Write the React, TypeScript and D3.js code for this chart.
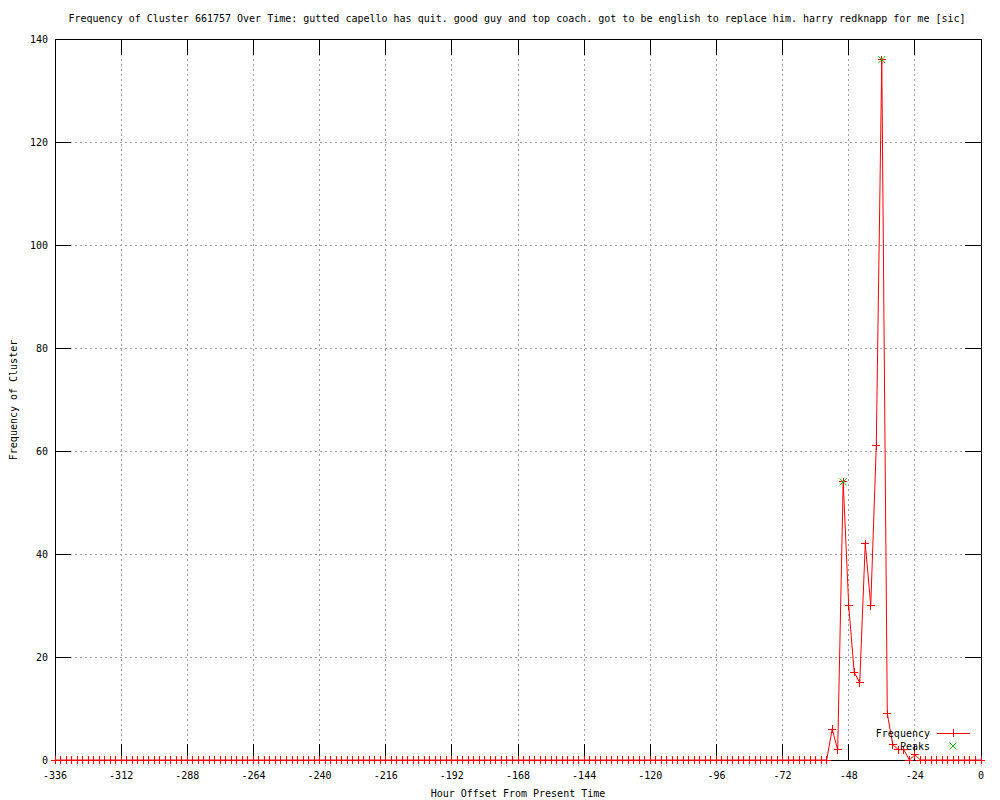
import React from "react";
import * as d3 from "d3";

const TITLE =
  "Frequency of Cluster 661757 Over Time: gutted capello has quit. good guy and top coach. got to be english to replace him. harry redknapp for me [sic]";
const X_LABEL = "Hour Offset From Present Time";
const Y_LABEL = "Frequency of Cluster";

// Non-zero observations (hour offset -> frequency); all other 2-hour samples are 0
const hours: number[] = [-54, -52, -50, -48, -46, -44, -42, -40, -38, -36, -34, -32, -30, -28, -26, -24];
const counts: number[] = [6, 2, 54, 30, 17, 15, 42, 30, 61, 136, 9, 3, 2, 2, 0, 1];
const peakHours: number[] = [-50, -36];
const peakCounts: number[] = [54, 136];
const xTicks: number[] = [-336, -312, -288, -264, -240, -216, -192, -168, -144, -120, -96, -72, -48, -24, 0];
const yTicks: number[] = [0, 20, 40, 60, 80, 100, 120, 140];
const sampleHours: number[] = d3.range(-336, 1, 2);

const FONT = "'DejaVu Sans Mono', monospace";

export default function App() {
  const W = 1000, H = 800;
  const left = 55, right = 981, top = 39, bottom = 760;
  const x = d3.scaleLinear().domain([-336, 0]).range([left, right]);
  const y = d3.scaleLinear().domain([0, 140]).range([bottom, top]);

  const lookup = new Map<number, number>();
  hours.forEach((h, i) => lookup.set(h, counts[i]));
  const series = sampleHours.map((h) => ({ h, v: lookup.get(h) ?? 0 }));
  const line = d3.line<{ h: number; v: number }>().x((d) => x(d.h)).y((d) => y(d.v));

  const red = "#ff0000";
  const green = "#00c000";
  const tick = 16;
  const plus = (cx: number, cy: number, key: string, col = red) => (
    <g key={key} stroke={col} strokeWidth={1} shapeRendering="crispEdges">
      <line x1={cx - 4} x2={cx + 4} y1={cy} y2={cy} />
      <line x1={cx} x2={cx} y1={cy - 4} y2={cy + 4} />
    </g>
  );
  const cross = (cx: number, cy: number, key: string) => (
    <g key={key} stroke={green} strokeWidth={1}>
      <line x1={cx - 3.5} x2={cx + 3.5} y1={cy - 3.5} y2={cy + 3.5} />
      <line x1={cx - 3.5} x2={cx + 3.5} y1={cy + 3.5} y2={cy - 3.5} />
    </g>
  );

  return (
    <svg width={W} height={H} style={{ position: "absolute", left: 0, top: 0, background: "#fff" }} fontFamily={FONT} fontSize={10}>
      <rect x={0} y={0} width={W} height={H} fill="#fff" />
      {/* grid */}
      <g stroke="#a0a0a0" strokeDasharray="2,3" shapeRendering="crispEdges">
        {xTicks.filter((t) => t !== -336 && t !== 0).map((t) => (
          <line key={"gx" + t} x1={x(t)} x2={x(t)} y1={top} y2={bottom} />
        ))}
        {yTicks.filter((t) => t !== 0 && t !== 140).map((t) => (
          <line key={"gy" + t} x1={left} x2={right} y1={y(t)} y2={y(t)} />
        ))}
      </g>
      {/* ticks */}
      <g stroke="#000" shapeRendering="crispEdges">
        {xTicks.map((t) => (
          <g key={"tx" + t}>
            <line x1={x(t)} x2={x(t)} y1={bottom} y2={bottom - tick} />
            <line x1={x(t)} x2={x(t)} y1={top} y2={top + tick} />
          </g>
        ))}
        {yTicks.map((t) => (
          <g key={"ty" + t}>
            <line x1={left} x2={left + tick} y1={y(t)} y2={y(t)} />
            <line x1={right} x2={right - tick} y1={y(t)} y2={y(t)} />
          </g>
        ))}
        <rect x={left} y={top} width={right - left} height={bottom - top} fill="none" />
      </g>
      {/* tick labels */}
      {xTicks.map((t) => (
        <text key={"lx" + t} x={x(t)} y={779} textAnchor="middle">{t}</text>
      ))}
      {yTicks.map((t) => (
        <text key={"ly" + t} x={48} y={y(t) + 3.5} textAnchor="end">{t}</text>
      ))}
      {/* titles */}
      <text x={517} y={22} textAnchor="middle">{TITLE}</text>
      <text x={518} y={797} textAnchor="middle">{X_LABEL}</text>
      <text transform={`translate(17,400) rotate(-90)`} textAnchor="middle">{Y_LABEL}</text>
      {/* series */}
      <path d={line(series) ?? ""} fill="none" stroke={red} strokeWidth={1} />
      {series.map((d) => plus(x(d.h), y(d.v), "p" + d.h))}
      {peakHours.map((h, i) => cross(x(h), y(peakCounts[i]), "pk" + h))}
      {/* legend */}
      <text x={930} y={737} textAnchor="end">Frequency</text>
      <line x1={937} x2={970} y1={733} y2={733} stroke={red} shapeRendering="crispEdges" />
      {plus(953, 733, "legp")}
      <text x={930} y={750} textAnchor="end">Peaks</text>
      {cross(953, 746, "legx")}
    </svg>
  );
}
